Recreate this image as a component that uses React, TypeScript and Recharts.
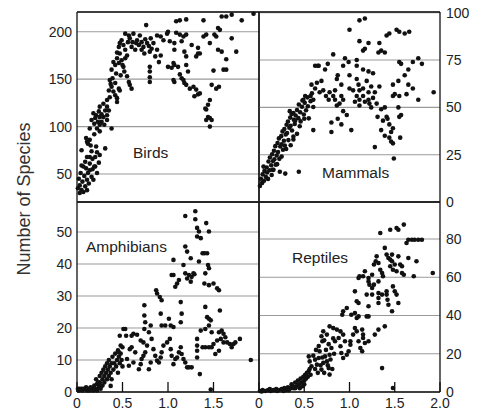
import { ScatterChart, Scatter, XAxis, YAxis, CartesianGrid } from "recharts";

// values, [x, y]
const birds: [number, number][] = [
  [0.01, 35], [0.03, 30], [0.05, 33], [0.07, 31], [0.03, 38], [0.06, 42], [0.09, 37], [0.11, 33], [0.11, 44], [0.04, 51],
  [0.07, 58], [0.05, 59], [0.12, 51], [0.14, 54], [0.16, 47], [0.18, 44], [0.1, 56], [0.11, 68], [0.14, 68], [0.14, 61],
  [0.2, 58], [0.22, 51], [0.17, 66], [0.2, 68], [0.22, 73], [0.25, 70], [0.21, 79], [0.31, 77], [0.05, 75], [0.11, 84],
  [0.12, 82], [0.14, 86], [0.1, 88], [0.16, 74], [0.19, 58], [0.02, 45], [0.08, 48], [0.13, 40], [0.09, 63], [0.17, 55],
  [0.24, 62], [0.19, 92], [0.15, 80],
  [0.14, 98], [0.16, 107], [0.2, 109], [0.18, 114], [0.21, 112], [0.24, 116], [0.25, 110], [0.27, 105], [0.29, 110], [0.31, 117],
  [0.3, 102], [0.33, 107], [0.35, 117], [0.25, 95], [0.22, 98], [0.38, 98], [0.33, 121], [0.29, 124], [0.25, 121], [0.25, 102],
  [0.33, 112], [0.19, 103], [0.23, 105], [0.27, 113],
  [0.33, 128], [0.36, 131], [0.35, 138], [0.38, 142], [0.4, 137], [0.36, 149], [0.39, 151], [0.42, 146], [0.44, 130], [0.44, 126],
  [0.46, 140], [0.43, 156], [0.47, 138], [0.42, 133], [0.37, 145],
  [0.38, 160], [0.42, 165], [0.4, 168], [0.44, 172], [0.46, 167], [0.47, 177], [0.49, 170], [0.51, 163], [0.46, 184], [0.47, 188],
  [0.49, 191], [0.53, 181], [0.55, 175], [0.52, 158], [0.55, 153], [0.57, 147], [0.6, 140], [0.58, 144], [0.48, 154], [0.53, 172],
  [0.5, 165], [0.44, 178], [0.51, 186],
  [0.53, 198], [0.57, 196], [0.58, 193], [0.62, 198], [0.66, 191], [0.69, 196], [0.68, 186], [0.71, 189], [0.73, 184], [0.77, 188],
  [0.81, 193], [0.82, 182], [0.84, 188], [0.88, 196], [0.92, 195], [0.95, 191], [0.99, 198], [0.76, 207], [0.6, 184], [0.64, 181],
  [0.8, 179], [0.86, 174], [0.9, 168], [0.92, 175], [0.88, 181], [0.8, 163], [0.8, 158], [0.8, 152], [0.8, 147], [0.65, 188],
  [0.61, 189], [0.74, 177], [0.71, 181], [0.75, 192], [0.79, 185], [0.56, 189],
  [1.0, 200], [1.09, 199], [1.13, 197], [1.17, 195], [1.2, 197], [1.39, 195], [1.42, 197], [1.51, 197], [1.53, 195],
  [1.02, 190], [1.07, 188], [1.15, 190], [1.26, 186], [1.33, 183], [1.35, 177],
  [1.07, 181], [1.18, 179], [1.2, 174], [1.31, 174], [1.33, 177],
  [1.0, 163], [1.04, 162], [1.06, 167], [1.07, 165], [1.11, 163],
  [1.2, 165], [1.22, 158], [1.13, 155], [1.15, 151], [1.06, 149], [1.07, 147], [1.17, 149], [1.18, 146],
  [1.2, 144], [1.24, 140], [1.28, 142], [1.31, 139], [1.33, 134], [1.29, 132], [1.35, 135],
  [1.46, 128], [1.44, 123], [1.42, 118], [1.41, 119], [1.44, 110], [1.46, 109], [1.48, 107], [1.42, 107], [1.46, 100],
  [1.09, 211], [1.13, 212], [1.2, 213], [1.39, 212], [1.59, 216], [1.64, 216], [1.7, 218], [1.81, 212], [1.94, 219],
  [1.55, 204], [1.57, 202], [1.46, 188], [1.55, 181], [1.59, 179], [1.64, 171], [1.61, 160], [1.64, 160], [1.5, 159],
  [1.48, 144], [1.53, 140], [1.56, 142], [1.7, 193], [1.75, 179],
];

const mammals: [number, number][] = [
  [0.01, 8.5], [0.02, 12.3], [0.035, 10.1], [0.04, 14.6], [0.055, 11.2], [0.06, 16.4], [0.05, 18.7], [0.075, 13.3], [0.085, 18.2], [0.09, 15.6],
  [0.105, 21.4], [0.1, 12.2], [0.115, 16.8], [0.12, 23.5], [0.135, 19.4], [0.14, 14.3], [0.145, 25.2], [0.155, 21.7], [0.165, 27.1], [0.17, 22.6],
  [0.185, 19.7], [0.18, 29.5], [0.195, 24.6], [0.205, 31.2], [0.21, 26.4], [0.225, 22.8], [0.22, 33.6], [0.235, 29.3], [0.245, 34.8], [0.25, 30.5],
  [0.265, 27.6], [0.26, 37.3], [0.275, 32.4], [0.285, 29.8], [0.28, 38.6], [0.295, 35.7], [0.305, 40.8], [0.31, 36.4], [0.325, 32.7], [0.32, 42.5],
  [0.335, 39.2], [0.345, 44.6], [0.35, 40.3], [0.365, 37.8], [0.36, 46.5], [0.385, 43.4], [0.38, 34.6], [0.405, 45.7], [0.395, 41.2], [0.42, 48.6],
  [0.435, 44.3], [0.44, 51.5], [0.455, 47.4], [0.46, 42.6], [0.475, 50.3], [0.48, 53.6], [0.495, 46.2], [0.505, 52.4], [0.52, 48.5], [0.535, 55.3],
  [0.54, 50.6], [0.55, 44.2], [0.57, 53.3], [0.585, 57.4], [0.6, 50.2],
  [0.35, 30], [0.38, 33], [0.3, 28], [0.25, 24], [0.2, 20], [0.15, 17], [0.42, 36], [0.45, 40], [0.5, 44],
  [0.23, 16], [0.29, 15], [0.44, 16], [0.16, 17], [0.34, 48], [0.38, 47], [0.4, 43], [0.6, 38],
  [0.51, 56], [0.49, 54], [0.58, 62], [0.62, 60], [0.65, 72], [0.73, 70], [0.76, 73], [0.82, 78], [0.67, 58], [0.71, 59],
  [0.74, 56], [0.77, 54], [0.82, 56], [0.84, 59], [0.86, 65], [0.87, 67], [0.91, 62], [0.93, 72], [0.95, 76], [0.99, 74],
  [1.0, 67], [0.91, 56], [0.93, 54], [0.89, 52], [0.8, 42], [0.8, 37], [0.91, 41], [0.93, 48], [0.97, 46], [1.02, 38],
  [0.87, 44], [0.64, 63], [0.69, 64], [0.78, 58], [0.84, 54], [0.86, 51], [0.6, 54], [0.57, 56], [0.62, 72], [0.66, 72],
  [1.0, 91], [1.11, 96], [1.17, 97], [1.11, 85], [1.21, 84], [1.17, 81], [1.15, 80], [1.33, 84], [1.35, 80], [1.32, 79],
  [1.39, 79], [1.41, 88], [1.44, 89], [1.52, 91], [1.55, 90], [1.61, 89], [1.66, 90], [1.08, 72], [1.15, 70], [1.21, 69],
  [1.26, 68], [1.08, 65], [1.1, 62], [1.11, 59], [1.15, 60], [1.19, 64], [1.21, 58], [1.24, 61], [1.28, 58], [1.33, 61],
  [1.08, 56], [1.11, 54], [1.15, 56], [1.17, 53], [1.21, 54], [1.22, 52], [1.26, 55], [1.3, 52], [1.24, 50], [1.11, 51],
  [1.06, 53], [1.35, 49], [1.39, 50], [1.31, 45], [1.41, 45], [1.37, 43], [1.42, 44], [1.44, 41], [1.48, 39], [1.46, 37],
  [1.35, 38], [1.44, 34], [1.46, 32], [1.48, 31], [1.39, 35], [1.28, 29], [1.49, 23], [1.56, 34], [1.55, 45], [1.57, 46],
  [1.54, 50], [1.48, 56], [1.5, 57], [1.55, 56], [1.63, 57], [1.65, 62], [1.7, 60], [1.55, 74], [1.57, 73], [1.61, 67],
  [1.65, 70], [1.7, 74], [1.76, 76], [1.8, 73], [1.76, 54], [1.93, 58], [1.48, 62], [1.54, 64], [1.08, 75], [1.0, 60],
  [1.04, 59],
];

const amphibians: [number, number][] = [
  [0.01, 1], [0.03, 1], [0.05, 1], [0.07, 1], [0.09, 1], [0.11, 0.5], [0.13, 1], [0.15, 1.5], [0.17, 1], [0.19, 2],
  [0.2, 1], [0.22, 2.5], [0.24, 1.5], [0.25, 3], [0.02, 0.5], [0.06, 0.5], [0.1, 1.5], [0.14, 0.5], [0.18, 0.5], [0.22, 0.5],
  [0.26, 1], [0.28, 2],
  [0.21, 4], [0.23, 3], [0.25, 5], [0.26, 2], [0.27, 6], [0.28, 4], [0.29, 7], [0.3, 3], [0.3, 5], [0.31, 8],
  [0.32, 6], [0.33, 4], [0.33, 9], [0.34, 7], [0.35, 5], [0.35, 10], [0.36, 8], [0.37, 6], [0.38, 9], [0.38, 4],
  [0.39, 11], [0.4, 7], [0.41, 9], [0.42, 12], [0.43, 8], [0.44, 10], [0.45, 6], [0.45, 13], [0.46, 11], [0.47, 9],
  [0.48, 12], [0.49, 10], [0.5, 8], [0.5, 14], [0.48, 14.5], [0.46, 12.4], [0.37, 1.9], [0.47, 17.6], [0.51, 19.7],
  [0.53, 19.7], [0.54, 17.6], [0.6, 17.6], [0.62, 18.2], [0.66, 17.9], [0.58, 13.4], [0.6, 14], [0.64, 12.4], [0.55, 10.3], [0.57, 8.2],
  [0.62, 9.2], [0.68, 7.1], [0.7, 8.7], [0.71, 10.3], [0.73, 11.3], [0.75, 12.4], [0.77, 14.5], [0.73, 15.5], [0.7, 16.1], [0.74, 19.7],
  [0.75, 21.8], [0.74, 23.9], [0.74, 27.1], [0.79, 18.7], [0.81, 20.8], [0.82, 16.6], [0.84, 13.4], [0.86, 11.3], [0.88, 9.8], [0.81, 9.2],
  [0.79, 7.1], [0.9, 9.2], [0.92, 10.8], [0.93, 12.4], [0.95, 14.5], [0.97, 20.8], [0.87, 31.8], [0.88, 30.8], [0.91, 29.7], [0.93, 28.7],
  [0.92, 24.5], [0.93, 20.8], [1.01, 22.9], [1.02, 16.6], [0.99, 15.5], [1.03, 13.4], [1.04, 11.3], [1.06, 8.7], [1.08, 10.3], [1.1, 10.8],
  [1.12, 12.4], [1.14, 14], [1.15, 11.9], [1.17, 10.3], [1.19, 9.2], [1.21, 7.7], [1.23, 7.7], [1.26, 7.7], [1.35, 5.6], [1.03, 20.8],
  [1.06, 20.3], [1.14, 21.8], [1.15, 24.5], [1.14, 28.1], [1.06, 36.6], [1.04, 36.6], [1.06, 41.3], [1.08, 32.9], [1.1, 33.9], [1.12, 35],
  [1.17, 39.7], [1.19, 37.1], [1.21, 35.5], [1.23, 36.6], [1.25, 34.5], [1.26, 36], [1.29, 36.8], [1.28, 37.1], [1.19, 45.5], [1.21, 43.9],
  [1.25, 41.8], [1.19, 55], [1.3, 56.5], [1.3, 54], [1.32, 51.3], [1.34, 50.2], [1.32, 48.6], [1.36, 48.1], [1.42, 52.8], [1.45, 50.2],
  [1.38, 43.4], [1.4, 43.4], [1.43, 43.4], [1.34, 40.8], [1.44, 39.7], [1.45, 38.7], [1.41, 37.1], [1.4, 33.9], [1.45, 33.4], [1.5, 33.9],
  [1.54, 32.4], [1.56, 31.8], [1.41, 26.6], [1.43, 23.4], [1.45, 22.9], [1.47, 22.4], [1.45, 20.8], [1.41, 19.7], [1.57, 25.5], [1.32, 16.6],
  [1.32, 14.5], [1.32, 12.9], [1.32, 10.8], [1.36, 19.2], [1.38, 14], [1.41, 14], [1.45, 14], [1.48, 14], [1.5, 15], [1.54, 16.1],
  [1.52, 11.9], [1.56, 18.7], [1.59, 19.2], [1.61, 18.2], [1.63, 17.1], [1.65, 15.5], [1.58, 16.6], [1.61, 15.5], [1.68, 15], [1.7, 14],
  [1.72, 15], [1.74, 15.5], [1.79, 16.6], [1.56, 12.9], [1.48, 18.7], [1.47, 0.8], [1.91, 10],
];

const reptiles: [number, number][] = [
  [0.01, 0.5], [0.04, 1], [0.07, 0.5], [0.1, 1], [0.13, 0.5], [0.16, 1], [0.19, 1.5], [0.22, 1], [0.25, 1.5], [0.28, 2],
  [0.3, 1], [0.32, 2.5], [0.35, 2], [0.37, 3], [0.4, 2], [0.03, 0.3], [0.12, 1.5], [0.2, 0.5], [0.27, 0.5], [0.33, 1],
  [0.36, 4], [0.38, 2], [0.4, 5], [0.41, 3], [0.43, 6], [0.44, 4], [0.45, 2], [0.46, 7], [0.47, 5], [0.48, 3],
  [0.49, 8], [0.5, 6], [0.5, 4], [0.51, 9], [0.52, 7], [0.53, 10], [0.54, 8], [0.55, 11], [0.56, 12], [0.57, 9],
  [0.55, 18.6], [0.56, 16], [0.58, 13.4], [0.62, 16.9], [0.64, 14.3], [0.66, 17.8], [0.67, 21.3], [0.69, 11.7], [0.71, 15.2], [0.73, 18.6],
  [0.75, 16], [0.77, 12.5], [0.78, 9.1], [0.78, 19.5], [0.8, 23], [0.7, 26.5], [0.69, 29.1], [0.71, 31.7], [0.75, 30], [0.78, 34.3],
  [0.82, 33.4], [0.86, 32.6], [0.9, 31.7], [0.88, 28.2], [0.84, 26.5], [0.9, 23.9], [0.91, 20.4], [0.93, 17.8], [0.97, 19.5], [0.99, 21.3],
  [1.01, 24.7], [1.01, 26.5], [0.95, 26.5], [0.93, 30], [1.04, 30], [1.06, 33.4], [1.08, 31.7], [1.1, 26.5], [1.12, 23], [1.14, 21.3],
  [1.15, 28.2], [1.17, 25.6], [1.21, 26.5], [1.15, 30], [1.14, 32.6], [0.92, 40.4], [0.93, 42.2], [0.97, 43.9], [1.02, 40.4], [1.06, 41.3],
  [1.08, 38.7], [1.1, 39.5], [1.06, 52.6], [1.08, 47.4], [1.1, 46.5], [1.19, 50.9], [1.21, 44.8], [1.21, 39.5], [1.25, 50.9], [1.19, 39.5],
  [1.28, 30], [1.32, 32.6], [1.39, 34.3], [1.1, 59.6], [1.11, 60.5], [1.15, 60.5], [1.17, 63.1], [1.21, 57.8], [1.22, 56.1], [1.25, 54.4],
  [1.27, 56.1], [1.21, 59.6], [1.25, 61.3], [1.27, 66.6], [1.29, 68.3], [1.3, 70.9], [1.32, 67.4], [1.34, 63.9], [1.36, 62.2], [1.37, 60.5],
  [1.32, 57.8], [1.32, 51.7], [1.32, 49.1], [1.32, 46.5], [1.36, 50.9], [1.41, 50.9], [1.42, 48.2], [1.41, 52.6], [1.43, 45.6], [1.47, 42.2],
  [1.48, 55.2], [1.5, 52.6], [1.52, 50.9], [1.54, 46.5], [1.39, 75.3], [1.41, 71.8], [1.43, 70], [1.45, 69.2], [1.47, 71.8], [1.45, 65.7],
  [1.47, 68.3], [1.48, 63.9], [1.5, 66.6], [1.52, 63.1], [1.54, 70.9], [1.56, 66.6], [1.58, 65.7], [1.6, 61.3], [1.58, 62.2], [1.65, 70],
  [1.71, 60.5], [1.74, 68.3], [1.34, 83.1], [1.45, 84.8], [1.52, 85.7], [1.54, 84.8], [1.6, 87.5], [1.63, 77.9], [1.65, 79.6], [1.69, 79.6],
  [1.72, 79.6], [1.76, 79.6], [1.8, 79.6], [1.92, 62.2], [1.36, 12.5], [1.48, 2.1],
  [0.62, 12], [0.65, 10], [0.68, 14], [0.7, 18], [0.72, 10], [0.74, 22], [0.76, 14], [0.79, 17], [0.81, 12], [0.83, 20],
  [0.6, 19], [0.63, 22], [0.66, 24], [0.82, 28], [0.77, 25], [0.72, 27],
];

const birdTicks = [50, 100, 150, 200];
const mammalTicks = [0, 25, 50, 75, 100];
const amphibianTicks = [0, 10, 20, 30, 40, 50];
const reptileTicks = [0, 20, 40, 60, 80];
const xTicksLeft = [0, 0.5, 1, 1.5];
const xTicksRight = [0, 0.5, 1, 1.5, 2];
const innerTicks = [0.5, 1, 1.5];

const font = "'Liberation Sans', Arial, Helvetica, sans-serif";
const tickStyle = { fontSize: 14, fill: "#222", fontFamily: font };
const frame = { stroke: "#111", strokeWidth: 1.3 };

const dot = (p: any) => <circle cx={p.cx} cy={p.cy} r={2.3} fill="#111" />;
const fmtX = (v: number) => (v === 0 ? "0" : v.toFixed(1));

// each panel is its own chart; the plot boxes meet at x=259, y=202
function Panel({ data, yDomain, yTicks, side, bottom, left, top }: any) {
  const pts = data.map(([x, y]: [number, number]) => ({ x, y }));
  const labelW = side === "left" ? 77 : 47;
  const spareW = side === "left" ? 1 : 12;
  const plotW = side === "left" ? 182 : 181;
  const width = labelW + plotW + spareW;
  const height = bottom ? 216 : 212;
  const xTicks = side === "left" ? xTicksLeft : xTicksRight;
  return (
    <div style={{ position: "absolute", left, top }}>
      <ScatterChart width={width} height={height} margin={{ top: bottom ? 0 : 11, right: 0, bottom: 0, left: 0 }}>
        <CartesianGrid vertical={false} stroke="#9a9a9a" strokeWidth={1.1} />
        <XAxis
          dataKey="x" type="number" domain={[0, 2]} ticks={bottom ? xTicks : innerTicks} interval={0}
          height={bottom ? 25 : 10} tickSize={-10} tickMargin={16} tickFormatter={fmtX}
          tick={bottom ? tickStyle : false} axisLine={frame} tickLine={frame}
        />
        <XAxis
          xAxisId="t" orientation="top" type="number" domain={[0, 2]} ticks={innerTicks} interval={0}
          height={1} tickSize={-10} tick={false} axisLine={frame} tickLine={frame}
        />
        <YAxis
          dataKey="y" type="number" orientation={side} domain={yDomain} ticks={yTicks} interval={0}
          width={labelW} tickSize={0} tickMargin={side === "left" ? 5 : 6} tick={tickStyle}
          axisLine={frame} tickLine={false}
        />
        <YAxis
          yAxisId="s" orientation={side === "left" ? "right" : "left"} type="number" domain={yDomain}
          ticks={yTicks} width={spareW} tick={false} tickLine={false} axisLine={frame}
        />
        <Scatter data={pts} shape={dot} isAnimationActive={false} />
      </ScatterChart>
    </div>
  );
}

export default function App() {
  return (
    <div style={{ position: "absolute", left: 0, top: 0, width: 487, height: 417, background: "#fff" }}>
      <Panel data={birds} yDomain={[20.5, 220.8]} yTicks={birdTicks} side="left" bottom={false} left={0} top={0} />
      <Panel data={mammals} yDomain={[0, 100.4]} yTicks={mammalTicks} side="right" bottom={false} left={247} top={0} />
      <Panel data={amphibians} yDomain={[0, 59.4]} yTicks={amphibianTicks} side="left" bottom={true} left={0} top={201} />
      <Panel data={reptiles} yDomain={[0, 99.3]} yTicks={reptileTicks} side="right" bottom={true} left={247} top={201} />
      <svg width={487} height={417} style={{ position: "absolute", left: 0, top: 0, pointerEvents: "none" }}>
        <g fontFamily={font} fontSize={15.5} fill="#222">
          <text x={133} y={158}>Birds</text>
          <text x={322} y={178}>Mammals</text>
          <text x={86} y={252}>Amphibians</text>
          <text x={292} y={263}>Reptiles</text>
        </g>
        <text transform="translate(30,199) rotate(-90)" textAnchor="middle" fontFamily={font} fontSize={18} fill="#333">
          Number of Species
        </text>
      </svg>
    </div>
  );
}
